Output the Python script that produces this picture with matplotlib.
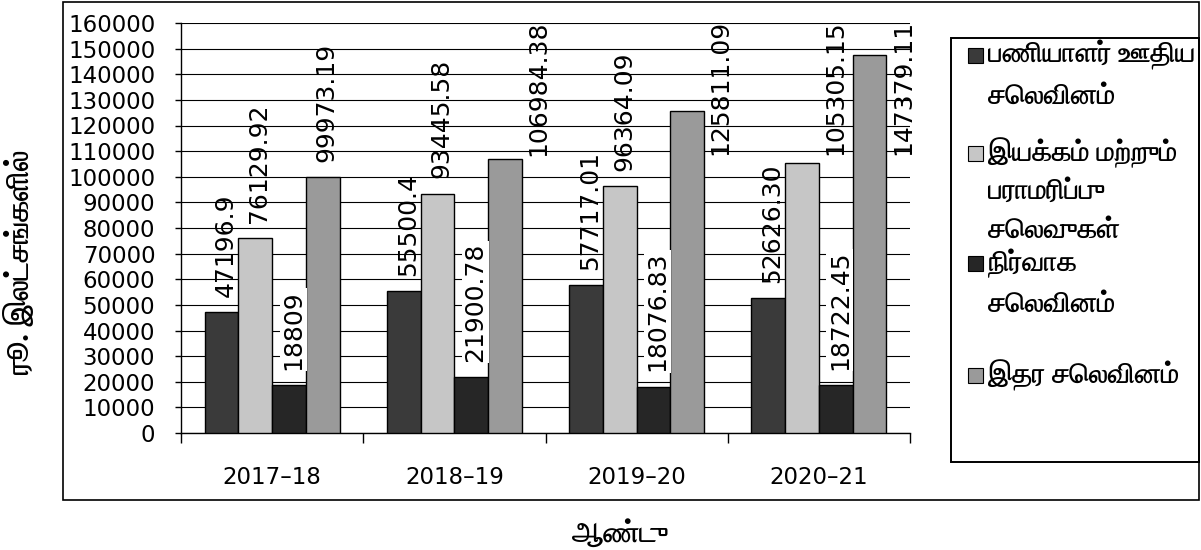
import numpy as np
import matplotlib
matplotlib.use("Agg")
import matplotlib.pyplot as plt
from matplotlib import font_manager
from matplotlib.ft2font import FT2Font
from matplotlib.patches import Rectangle

years = ["2017–18", "2018–19", "2019–20", "2020–21"]
series_names = [
    ["பணியாளர் ஊதிய", "செலவினம்"],
    ["இயக்கம் மற்றும்", "பராமரிப்பு", "செலவுகள்"],
    ["நிர்வாக", "செலவினம்"],
    ["இதர செலவினம்"],
]
salary = ["47196.9", "55500.4", "57717.01", "52626.30"]
operation = ["76129.92", "93445.58", "96364.09", "105305.15"]
admin = ["18809", "21900.78", "18076.83", "18722.45"]
other = ["99973.19", "106984.38", "125811.09", "147379.11"]
y_ticks = np.arange(0, 160001, 10000)


def tamil_font():
    # installed faces with Tamil glyphs; prefer a family that also has a bold cut
    found = []
    for f in font_manager.fontManager.ttflist:
        try:
            cmap = FT2Font(f.fname).get_charmap()
        except Exception:
            continue
        if 0x0BA4 in cmap and 0x0BAE in cmap:
            found.append(f)
    if not found:
        return "DejaVu Sans"
    for f in found:
        w = f.weight if isinstance(f.weight, int) else 700 if f.weight == "bold" else 400
        if w >= 600:
            return f.name
    return found[0].name


TA = [tamil_font(), "DejaVu Sans"]

W, H = 1201, 550
fig = plt.figure(figsize=(W / 100, H / 100), dpi=100)


def fx(px):
    return px / W


def fy(py):
    return 1 - py / H


ax = fig.add_axes([fx(181), fy(433), fx(910) - fx(181), fy(23) - fy(433)])

colors = ["#3a3a3a", "#c6c6c6", "#262626", "#9a9a9a"]
all_series = [salary, operation, admin, other]
x = np.arange(len(years))
w = 0.185
notes = []
for i, (labels, c) in enumerate(zip(all_series, colors)):
    vals = [float(s) for s in labels]
    pos = x + (i - 1.5) * w
    ax.bar(pos, vals, width=w, color=c, edgecolor="black", linewidth=1.0, zorder=3)
    for xp, v, s in zip(pos, vals, labels):
        box = dict(facecolor="white", edgecolor="none", pad=1) if i == 2 else None
        a = ax.annotate(s, (xp, v), xytext=(3, 11), textcoords="offset points",
                        rotation=90, ha="center", va="bottom", fontsize=18,
                        family="DejaVu Sans", zorder=4, bbox=box,
                        annotation_clip=False)
        notes.append((a, xp))

# labels that would run past the top of the frame go beside their bar
fig.canvas.draw()
for a, xp in notes:
    if a.get_window_extent().y1 > H - 10:
        a.xy = (xp + w / 2, 160000)
        a.xyann = (12, 2)
        a.set_va("top")

ax.set_xlim(-0.5, 3.5)
ax.set_ylim(0, 160000)
ax.set_yticks(y_ticks)
ax.set_yticklabels([str(t) for t in y_ticks], fontsize=16.5)
ax.yaxis.grid(True, color="black", linewidth=0.8, zorder=0)
ax.set_axisbelow(True)
ax.tick_params(axis="y", direction="out", length=4.5, width=1, pad=14)

ax.set_xticks(np.arange(-0.5, 3.6, 1.0))
ax.set_xticklabels([])
ax.tick_params(axis="x", which="major", direction="out", length=7, width=1)
ax.set_xticks(x, minor=True)
ax.set_xticklabels(years, minor=True, fontsize=16.5)
ax.tick_params(axis="x", which="minor", length=0, pad=24)

for side in ["top", "right"]:
    ax.spines[side].set_visible(False)
ax.spines["left"].set_linewidth(1.0)
ax.spines["bottom"].set_linewidth(1.0)

# outer chart frame
fig.patches.append(Rectangle((fx(63), fy(500)), fx(1199) - fx(63), fy(2) - fy(500),
                             transform=fig.transFigure, fill=False,
                             edgecolor="black", linewidth=1.2))

# legend frame and entries
fig.patches.append(Rectangle((fx(951), fy(462)), fx(1199) - fx(951), fy(38) - fy(462),
                             transform=fig.transFigure, fill=False,
                             edgecolor="black", linewidth=1.4))
entry_top = [55, 153, 263, 375]
line_gap = [42, 39, 42, 40]
for name, c, top, gap in zip(series_names, colors, entry_top, line_gap):
    fig.patches.append(Rectangle((fx(968), fy(top + 8)), fx(15), fy(0) - fy(15),
                                 transform=fig.transFigure, facecolor=c,
                                 edgecolor="black", linewidth=0.8))
    for k, line in enumerate(name):
        fig.text(fx(988), fy(top + k * gap), line, family=TA, fontsize=20.5,
                 fontweight="bold", ha="left", va="center")

fig.text(fx(19), fy(262), "ரூ. இலட்சங்களில்", family=TA, fontsize=22,
         fontweight="bold", rotation=90, ha="center", va="center")
fig.text(fx(620), fy(533), "ஆண்டு", family=TA, fontsize=21,
         fontweight="bold", ha="center", va="center")

fig.savefig("out.png", dpi=100)
